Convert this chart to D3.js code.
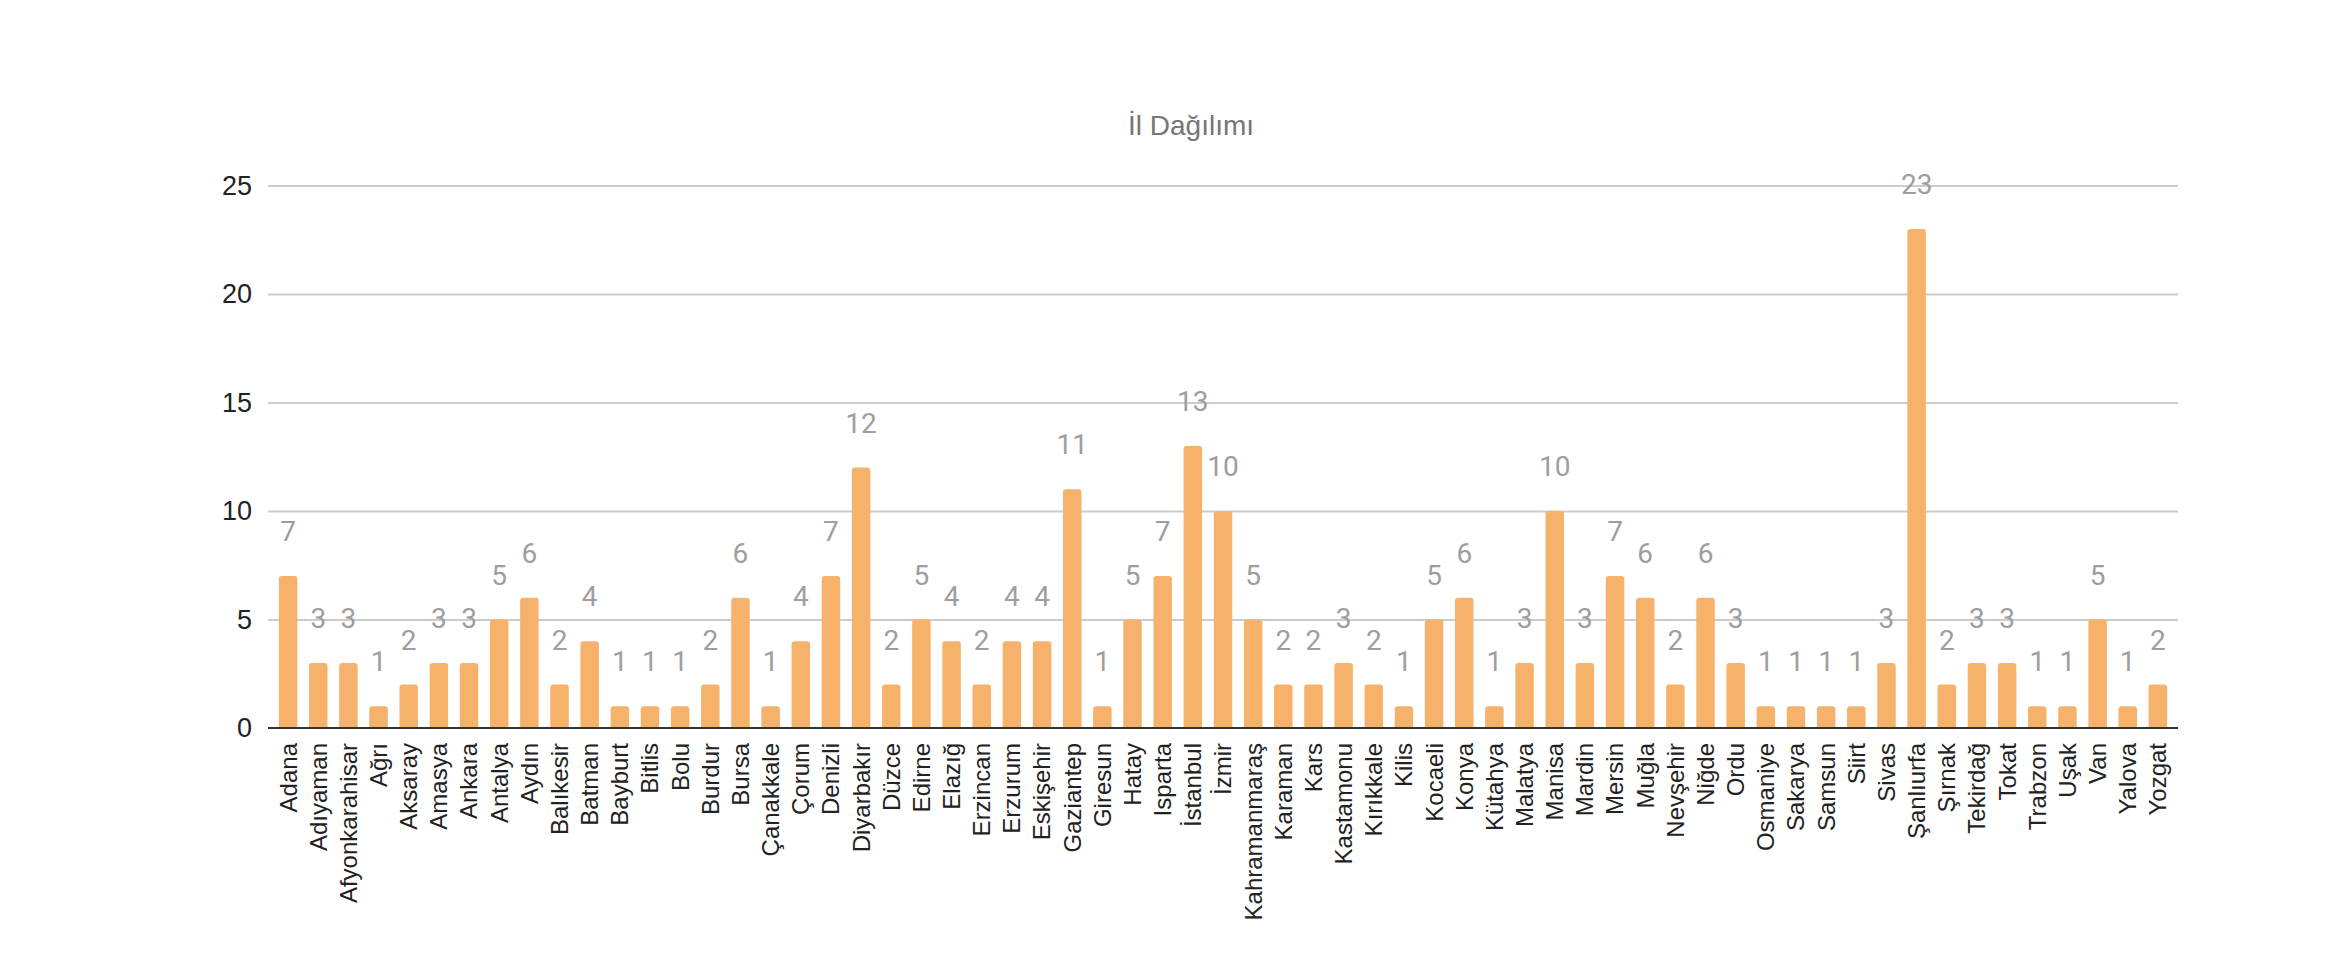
<!DOCTYPE html>
<html>
<head>
<meta charset="utf-8">
<script src="https://cdn.jsdelivr.net/npm/d3@7"></script>
<style>
  html, body { margin: 0; padding: 0; background: #fff; }
  svg { display: block; }
</style>
</head>
<body>
<svg id="chart"></svg>
<script>
// il adları ve sayıları
const provinces = ["Adana","Adıyaman","Afyonkarahisar","Ağrı","Aksaray","Amasya","Ankara","Antalya","Aydın","Balıkesir",
  "Batman","Bayburt","Bitlis","Bolu","Burdur","Bursa","Çanakkale","Çorum","Denizli","Diyarbakır",
  "Düzce","Edirne","Elazığ","Erzincan","Erzurum","Eskişehir","Gaziantep","Giresun","Hatay","Isparta",
  "İstanbul","İzmir","Kahramanmaraş","Karaman","Kars","Kastamonu","Kırıkkale","Kilis","Kocaeli","Konya",
  "Kütahya","Malatya","Manisa","Mardin","Mersin","Muğla","Nevşehir","Niğde","Ordu","Osmaniye",
  "Sakarya","Samsun","Siirt","Sivas","Şanlıurfa","Şırnak","Tekirdağ","Tokat","Trabzon","Uşak",
  "Van","Yalova","Yozgat"];
const counts = [7,3,3,1,2,3,3,5,6,2,
  4,1,1,1,2,6,1,4,7,12,
  2,5,4,2,4,4,11,1,5,7,
  13,10,5,2,2,3,2,1,5,6,
  1,3,10,3,7,6,2,6,3,1,
  1,1,1,3,23,2,3,3,1,1,
  5,1,2];
const yTicks = [0, 5, 10, 15, 20, 25];
const title = "İl Dağılımı";

const width = 2350, height = 965;
const marginLeft = 268, marginRight = 172;
const yTop = 185.5, yBottom = 728;

const data = provinces.map((p, i) => ({ name: p, value: counts[i] }));

const svg = d3.select("#chart")
    .attr("width", width)
    .attr("height", height)
    .attr("viewBox", `0 0 ${width} ${height}`);

// x ölçeği
const x = d3.scaleBand()
    .domain(provinces)
    .range([marginLeft, width - marginRight])
    .paddingInner(0.387)
    .paddingOuter(0.36);

// y ölçeği
const y = d3.scaleLinear()
    .domain([0, 25])
    .range([yBottom, yTop]);

// başlık
svg.append("text")
    .attr("x", 1191)
    .attr("y", 135)
    .attr("text-anchor", "middle")
    .attr("fill", "#757575")
    .style("font", "28px 'Liberation Sans', Arial, sans-serif")
    .text(title);

// ızgara çizgileri ve y ekseni
svg.append("g")
    .attr("transform", `translate(${marginLeft},0)`)
    .call(d3.axisLeft(y).tickValues(yTicks).tickSize(-(width - marginLeft - marginRight)).tickPadding(16))
    .call(g => g.select(".domain").remove())
    .call(g => g.selectAll(".tick line")
        .attr("stroke", d => d === 0 ? "none" : "#cccccc")
        .attr("stroke-width", 2))
    .call(g => g.selectAll(".tick text")
        .attr("fill", "#222")
        .style("font", "27px 'Liberation Sans', Arial, sans-serif"));

// çubuklar (üst köşeler yuvarlatılmış)
const r = 3;
svg.append("g")
    .attr("fill", "#f6b26b")
  .selectAll("path")
  .data(data)
  .join("path")
    .attr("d", d => {
      const x0 = x(d.name), w = x.bandwidth();
      const y0 = y(d.value), y1 = y(0);
      return `M${x0},${y1}V${y0 + r}Q${x0},${y0} ${x0 + r},${y0}H${x0 + w - r}Q${x0 + w},${y0} ${x0 + w},${y0 + r}V${y1}Z`;
    });

// sıfır çizgisi ve x etiketleri
svg.append("g")
    .attr("transform", `translate(0,${y(0)})`)
    .call(d3.axisBottom(x).tickSize(0).tickPadding(15))
    .call(g => g.select(".domain")
        .attr("d", `M${marginLeft},0H${width - marginRight}`)
        .attr("stroke", "#333")
        .attr("stroke-width", 2))
    .call(g => g.selectAll(".tick text")
        .attr("fill", "#222")
        .style("font", "24px 'Liberation Sans', Arial, sans-serif")
        .attr("text-anchor", "end")
        .attr("transform", "rotate(-90)")
        .attr("x", -15)
        .attr("y", 0)
        .attr("dy", "0.35em"));

// değer etiketleri
svg.append("g")
  .selectAll("text")
  .data(data)
  .join("text")
    .attr("x", d => x(d.name) + x.bandwidth() / 2)
    .attr("y", d => y(d.value) - 35)
    .attr("text-anchor", "middle")
    .attr("fill", "#9e9e9e")
    .style("font", "28px Roboto, sans-serif")
    .text(d => d.value);
</script>
</body>
</html>
